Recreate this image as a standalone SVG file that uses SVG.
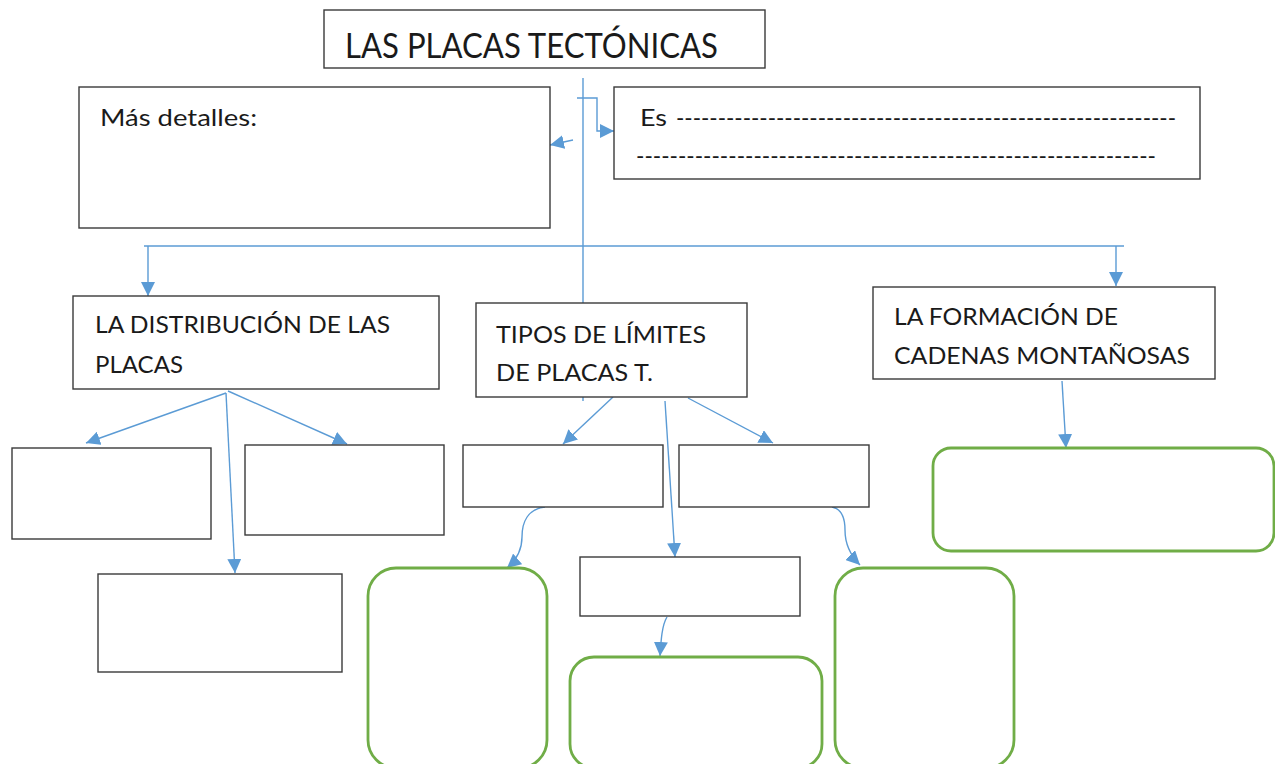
<svg xmlns="http://www.w3.org/2000/svg" width="1275" height="764" viewBox="0 0 1275 764">
<style>
.box{fill:#fff;stroke:#3a3a3a;stroke-width:1.4}
.gbox{fill:#fff;stroke:#70AD47;stroke-width:2.8}
.con{fill:none;stroke:#5B9BD5;stroke-width:1.4}
.arr{marker-end:url(#ah)}
text{font-family:Lato,"Liberation Sans",sans-serif;fill:#1a1a1a}
.t{font-size:22.5px}
</style>
<defs>
<marker id="ah" viewBox="0 0 10 10" refX="10" refY="5" markerUnits="userSpaceOnUse" markerWidth="14" markerHeight="14" orient="auto">
<path d="M0,0 L10,5 L0,10 z" fill="#5B9BD5"/>
</marker>
</defs>
<rect width="1275" height="764" fill="#fff"/>
<g id="connectors">
<path class="con" d="M583,78 V303"/>
<path class="con" d="M583,397 V401"/>
<path class="con arr" d="M577,98 H597 V131 H614"/>
<path class="con arr" d="M573,140 L550,145"/>
<path class="con" d="M144,246 H1124"/>
<path class="con arr" d="M148,246 V296"/>
<path class="con arr" d="M1116,246 V286"/>
<path class="con arr" d="M226,393 L86,443"/>
<path class="con arr" d="M228,391 L347,444"/>
<path class="con arr" d="M226,393 L235,573"/>
<path class="con arr" d="M613,397 L563,444"/>
<path class="con arr" d="M688,398 L773,443"/>
<path class="con arr" d="M665,401 L675,557"/>
<path class="con arr" d="M545,507 C528,509 522,522 522,537 C522,552 514,562 507,568"/>
<path class="con arr" d="M832,507 C842,509 845,518 845,530 C845,545 851,556 860,565"/>
<path class="con arr" d="M667,617 C662,625 661,640 660,656"/>
<path class="con arr" d="M1062,381 L1066,448"/>
</g>
<g id="title"><rect class="box" x="324" y="10" width="441" height="58"/><text x="345" y="58" font-size="34" textLength="373" lengthAdjust="spacingAndGlyphs">LAS PLACAS TECTÓNICAS</text></g>
<g id="mas"><rect class="box" x="79" y="87" width="471" height="141"/><text class="t" x="100" y="126" font-size="24" textLength="157" lengthAdjust="spacingAndGlyphs">Más detalles:</text></g>
<g id="es"><rect class="box" x="614" y="87" width="586" height="92"/>
<text class="t" x="640" y="126" textLength="27" lengthAdjust="spacingAndGlyphs">Es</text>
<text class="t" x="676" y="126" textLength="500" lengthAdjust="spacingAndGlyphs">------------------------------------------------------------</text>
<text class="t" x="636" y="164" textLength="520" lengthAdjust="spacingAndGlyphs">--------------------------------------------------------------</text></g>
<g id="distribucion"><rect class="box" x="73" y="296" width="366" height="93"/>
<text class="t" x="95" y="333" textLength="295" lengthAdjust="spacingAndGlyphs">LA DISTRIBUCIÓN DE LAS</text>
<text class="t" x="95" y="373" textLength="88" lengthAdjust="spacingAndGlyphs">PLACAS</text></g>
<g id="tipos"><rect class="box" x="476" y="303" width="271" height="94"/>
<text class="t" x="496" y="343" textLength="210" lengthAdjust="spacingAndGlyphs">TIPOS DE LÍMITES</text>
<text class="t" x="496" y="381" textLength="157" lengthAdjust="spacingAndGlyphs">DE PLACAS T.</text></g>
<g id="formacion"><rect class="box" x="873" y="287" width="342" height="92"/>
<text class="t" x="894" y="325" textLength="224" lengthAdjust="spacingAndGlyphs">LA FORMACIÓN DE</text>
<text class="t" x="894" y="364" textLength="296" lengthAdjust="spacingAndGlyphs">CADENAS MONTAÑOSAS</text></g>
<g id="boxA"><rect class="box" x="12" y="448" width="199" height="91"/></g>
<g id="boxB"><rect class="box" x="245" y="445" width="199" height="90"/></g>
<g id="boxC"><rect class="box" x="98" y="574" width="244" height="98"/></g>
<g id="boxD"><rect class="box" x="463" y="445" width="200" height="62"/></g>
<g id="boxE"><rect class="box" x="679" y="445" width="190" height="62"/></g>
<g id="boxM"><rect class="box" x="580" y="557" width="220" height="59"/></g>
<g id="green1"><rect class="gbox" x="368" y="568" width="179" height="200" rx="28"/></g>
<g id="green2"><rect class="gbox" x="570" y="657" width="252" height="111" rx="24"/></g>
<g id="green3"><rect class="gbox" x="835" y="568" width="179" height="200" rx="28"/></g>
<g id="green4"><rect class="gbox" x="933" y="448" width="341" height="103" rx="18"/></g>
</svg>
